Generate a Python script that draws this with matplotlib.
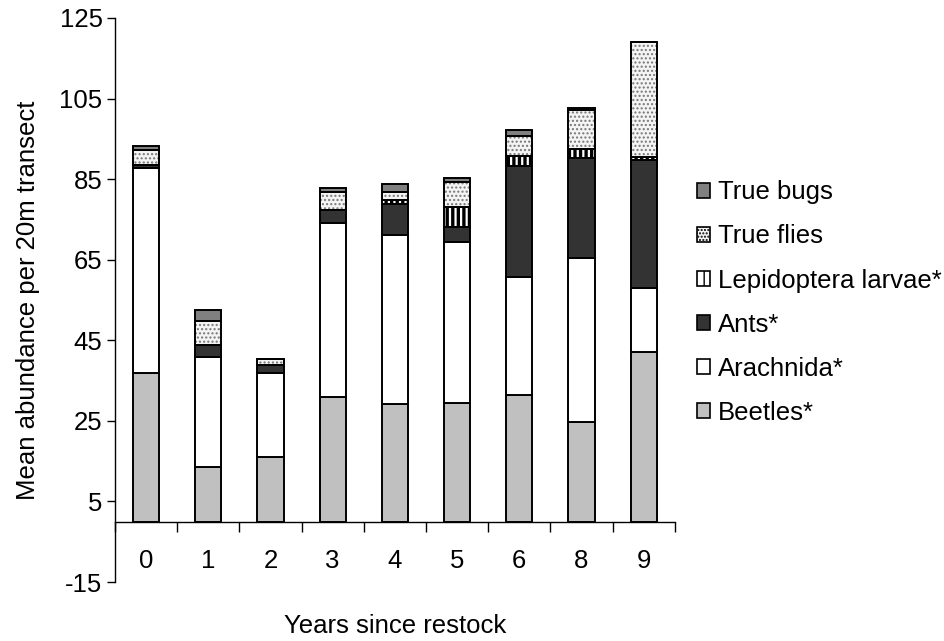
import matplotlib
matplotlib.use("Agg")
import matplotlib.pyplot as plt
import matplotlib.patches as mpatches
import numpy as np

plt.rcParams['font.family'] = ['Liberation Sans', 'DejaVu Sans']
plt.rcParams['axes.unicode_minus'] = False

years = ["0", "1", "2", "3", "4", "5", "6", "8", "9"]
beetles = [37.0, 13.5, 16.0, 30.9, 29.1, 29.5, 31.5, 24.8, 42.0]
arachnida = [50.7, 27.4, 20.8, 43.3, 42.1, 39.8, 29.3, 40.6, 15.9]
ants = [0.8, 2.9, 2.1, 3.1, 7.5, 3.9, 27.5, 24.8, 31.8]
lepidoptera = [0.0, 0.0, 0.0, 0.0, 1.0, 5.0, 2.5, 2.2, 0.9]
true_flies = [3.8, 6.1, 1.5, 4.4, 2.2, 6.0, 4.9, 9.8, 28.5]
true_bugs = [1.0, 2.5, 0.0, 1.0, 1.9, 1.0, 1.6, 0.4, 0.0]

series = [
    ("Beetles*", beetles, dict(facecolor="#c0c0c0", hatch=None, hcol="black")),
    ("Arachnida*", arachnida, dict(facecolor="white", hatch=None, hcol="black")),
    ("Ants*", ants, dict(facecolor="#333333", hatch=None, hcol="black")),
    ("Lepidoptera larvae*", lepidoptera, dict(facecolor="white", hatch="|||", hcol="black")),
    ("True flies", true_flies, dict(facecolor="#f4f4f4", hatch="....", hcol="#777777")),
    ("True bugs", true_bugs, dict(facecolor="#808080", hatch=None, hcol="black")),
]

FS = 18.5

fig = plt.figure(figsize=(9.45, 6.41), dpi=100)
ax = fig.add_axes([0.1217, 0.092, 0.714 - 0.1217, 0.972 - 0.092])

x = np.arange(len(years))
width = 0.42
bottom = np.zeros(len(years))
handles = []
for name, vals, st in series:
    vals = np.array(vals)
    if st["hatch"]:
        bars = ax.bar(x, vals, width, bottom=bottom, color=st["facecolor"],
                      edgecolor=st["hcol"], hatch=st["hatch"], linewidth=0, zorder=2)
        if st["hatch"].startswith("|"):
            for b in bars:
                if hasattr(b, "set_hatch_linewidth"):
                    b.set_hatch_linewidth(2.4)
        ax.bar(x, vals, width, bottom=bottom, fill=False, edgecolor="black",
               linewidth=1.4, zorder=3)
    else:
        ax.bar(x, vals, width, bottom=bottom, color=st["facecolor"],
               edgecolor="black", linewidth=1.4, zorder=3)
    h = mpatches.Patch(facecolor=st["facecolor"], edgecolor="black",
                       hatch=("||" if st["hatch"] and st["hatch"].startswith("|") else
                              ("....." if st["hatch"] else None)),
                       linewidth=1.2, label=name)
    handles.append(h)
    bottom += vals

ax.set_xlim(-0.5, len(years) - 0.5)
ax.set_ylim(-15, 125)
ax.set_yticks(np.arange(-15, 126, 20))
ax.spines['top'].set_visible(False)
ax.spines['right'].set_visible(False)
ax.spines['bottom'].set_position(('data', 0))
ax.spines['left'].set_linewidth(1.0)
ax.spines['bottom'].set_linewidth(1.0)

ax.set_xticks(x)
ax.set_xticklabels(years)
ax.set_xticks(np.arange(-0.5, len(years), 1.0), minor=True)
ax.tick_params(axis='x', which='major', length=0, pad=20, labelsize=FS)
ax.tick_params(axis='x', which='minor', length=7, direction='out', width=1.0)
ax.tick_params(axis='y', which='major', length=6, direction='out', width=1.0,
               labelsize=FS, pad=3)

ax.set_ylabel("Mean abundance per 20m transect", fontsize=FS, labelpad=14)
fig.text(0.418, 0.005, "Years since restock", ha='center', va='bottom', fontsize=FS)

leg = fig.legend(handles[::-1], [h.get_label() for h in handles[::-1]],
                 loc='center left', bbox_to_anchor=(0.738, 0.528),
                 frameon=False, fontsize=FS, handlelength=0.5, handleheight=0.5,
                 handletextpad=0.3, labelspacing=0.78, borderpad=0, borderaxespad=0)

fig.savefig("out.png", dpi=100)
